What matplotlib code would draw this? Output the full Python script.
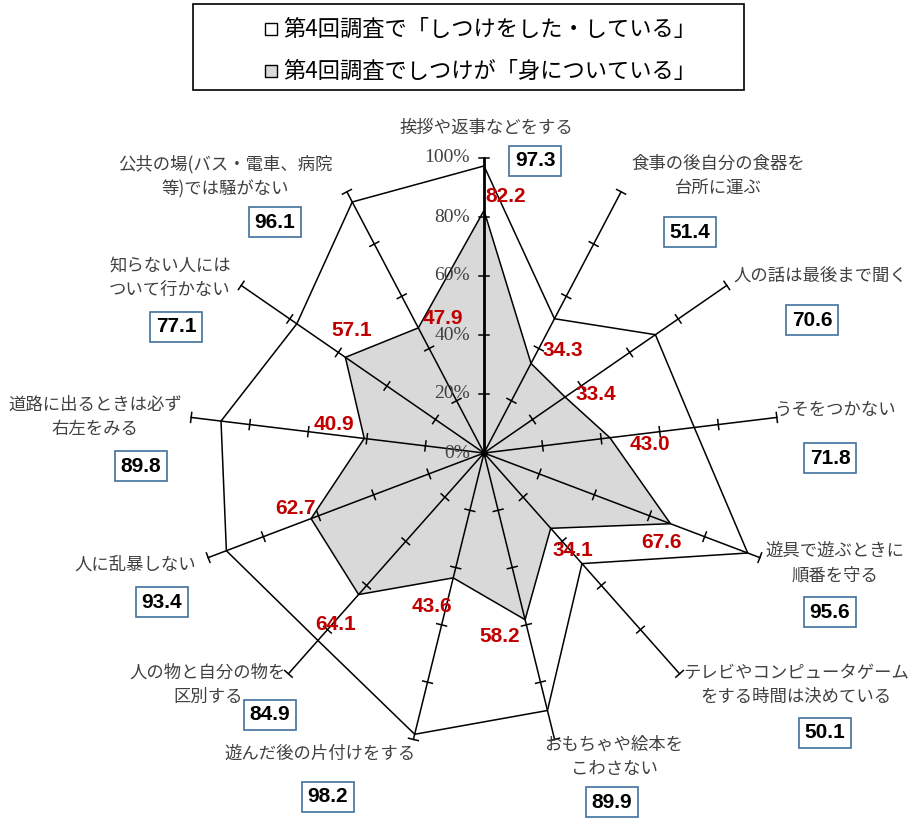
import matplotlib.pyplot as plt
import numpy as np
from matplotlib.patches import Rectangle, Polygon

plt.rcParams['font.family'] = ['Noto Sans CJK JP', 'DejaVu Sans']

categories = [
    "挨拶や返事などをする",
    "食事の後自分の食器を\n台所に運ぶ",
    "人の話は最後まで聞く",
    "うそをつかない",
    "遊具で遊ぶときに\n順番を守る",
    "テレビやコンピュータゲーム\nをする時間は決めている",
    "おもちゃや絵本を\nこわさない",
    "遊んだ後の片付けをする",
    "人の物と自分の物を\n区別する",
    "人に乱暴しない",
    "道路に出るときは必ず\n右左をみる",
    "知らない人には\nついて行かない",
    "公共の場(バス・電車、病院\n等)では騒がない",
]
did_values = [97.3, 51.4, 70.6, 71.8, 95.6, 50.1, 89.9, 98.2, 84.9, 93.4, 89.8, 77.1, 96.1]
learned_values = [82.2, 34.3, 33.4, 43.0, 67.6, 34.1, 58.2, 43.6, 64.1, 62.7, 40.9, 57.1, 47.9]
pct_ticks = [0, 20, 40, 60, 80, 100]
legend_labels = ["第4回調査で「しつけをした・している」", "第4回調査でしつけが「身についている」"]

# レイアウト（ピクセル）
W, H = 915, 818
CX, CY = 484, 453
R = 295.0          # 100% の長さ
S = R / 100.0      # 1 単位あたりのピクセル

def px(x, y):
    # ピクセル座標 -> データ座標
    return (x - CX) / S, (CY - y) / S

# ラベルの位置（ピクセル）
cat_pos = [(486, 128), (718, 176), (820, 276), (835, 410), (835, 563), (796, 685),
           (614, 757), (320, 754), (208, 685), (135, 565), (95, 417), (170, 278), (225, 177)]
box_pos = [(535, 161), (690, 232), (812, 320), (830, 458), (830, 612), (825, 733),
           (612, 802), (328, 797), (270, 715), (162, 602), (141, 466), (176, 327), (275, 222)]
red_pos = [(506, 197), (563, 350), (596, 395), (650, 445), (662, 543), (573, 550),
           (500, 636), (432, 606), (336, 624), (295, 508), (334, 425), (352, 330), (443, 319)]

fig = plt.figure(figsize=(W / 100, H / 100), dpi=100)
ax = fig.add_axes([0, 0, 1, 1])
ax.set_xlim(-CX / S, (W - CX) / S)
ax.set_ylim(-(H - CY) / S, CY / S)
ax.axis("off")

n = len(categories)
theta = np.pi / 2 - np.arange(n) * 2 * np.pi / n
ux, uy = np.cos(theta), np.sin(theta)

# 内側（身についている）
lv = np.array(learned_values)
ax.add_patch(Polygon(np.column_stack([lv * ux, lv * uy]), closed=True,
                     facecolor="#D9D9D9", edgecolor="none", zorder=1))

# 軸と目盛り
tick_half = 5 / S
for k in range(n):
    lw = 2.0 if k == 0 else 1.1
    ax.plot([0, 100 * ux[k]], [0, 100 * uy[k]], color="black", lw=lw, zorder=2)
    for t in pct_ticks[1:]:
        bx, by = t * ux[k], t * uy[k]
        ax.plot([bx - tick_half * -uy[k], bx + tick_half * -uy[k]],
                [by - tick_half * ux[k], by + tick_half * ux[k]],
                color="black", lw=1.1, zorder=2)
ax.plot(0, 0, "o", color="black", ms=4, zorder=3)

# 外側と内側の線
dv = np.array(did_values)
ax.plot(np.append(dv * ux, dv[0] * ux[0]), np.append(dv * uy, dv[0] * uy[0]),
        color="black", lw=1.1, zorder=3)
ax.plot(np.append(lv * ux, lv[0] * ux[0]), np.append(lv * uy, lv[0] * uy[0]),
        color="black", lw=1.1, zorder=3)

# % 目盛りラベル
for t in pct_ticks:
    ax.text(-14 / S, t, f"{t}%", ha="right", va="center", fontsize=14,
            family="Liberation Serif", color="#404040", zorder=4)

# 項目ラベルと数値
for k in range(n):
    x, y = px(*cat_pos[k])
    ax.text(x, y, categories[k], ha="center", va="center", fontsize=12.5,
            color="#404040", linespacing=1.45, zorder=4)
    x, y = px(*box_pos[k])
    ax.text(x, y, f"{did_values[k]:.1f}", ha="center", va="center", fontsize=15,
            family="Liberation Sans", weight="bold", color="black", zorder=5,
            bbox=dict(boxstyle="square,pad=0.28", facecolor="white",
                      edgecolor="#41719C", lw=1.2))
    x, y = px(*red_pos[k])
    ax.text(x, y, f"{learned_values[k]:.1f}", ha="center", va="center", fontsize=15,
            family="Liberation Sans", weight="bold", color="#C00000", zorder=5)

# 凡例
fig.patches.append(Rectangle((193 / W, 1 - 90 / H), (744 - 193) / W, 86 / H,
                             transform=fig.transFigure, facecolor="white",
                             edgecolor="black", lw=1.2))
for i, (lab, fc) in enumerate(zip(legend_labels, ["white", "#D9D9D9"])):
    yc = [29, 71][i]
    fig.patches.append(Rectangle((265 / W, 1 - (yc + 6) / H), 12 / W, 12 / H,
                                 transform=fig.transFigure, facecolor=fc,
                                 edgecolor="black", lw=1))
    fig.text(283 / W, 1 - yc / H, lab, ha="left", va="center", fontsize=16,
             color="black")

fig.savefig("out.png", dpi=100)
